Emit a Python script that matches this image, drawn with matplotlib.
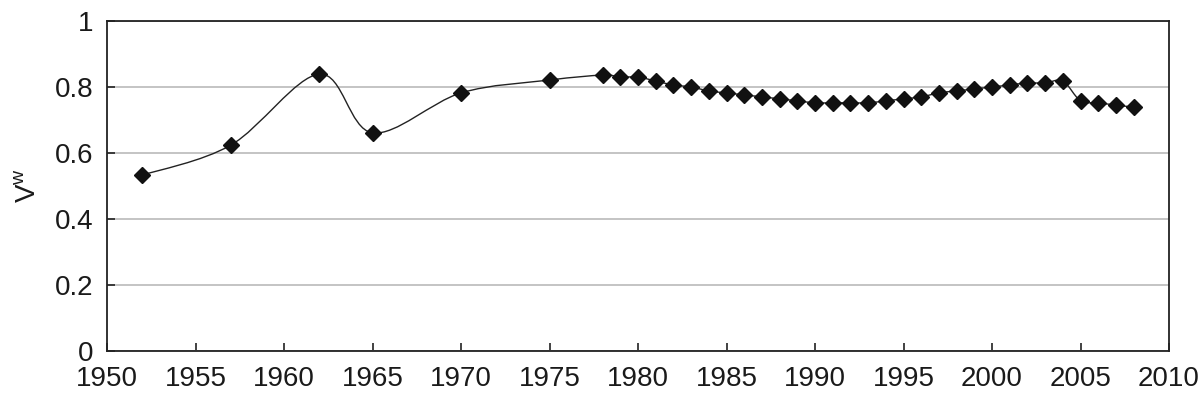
import matplotlib
matplotlib.use("Agg")
import matplotlib.pyplot as plt
from matplotlib.path import Path
from matplotlib.patches import PathPatch

plt.rcParams["font.family"] = ["Liberation Sans", "DejaVu Sans"]

years = [1952, 1957, 1962, 1965, 1970, 1975, 1978, 1979, 1980, 1981, 1982,
         1983, 1984, 1985, 1986, 1987, 1988, 1989, 1990, 1991, 1992, 1993,
         1994, 1995, 1996, 1997, 1998, 1999, 2000, 2001, 2002, 2003, 2004,
         2005, 2006, 2007, 2008]
vw = [0.533, 0.624, 0.839, 0.661, 0.782, 0.821, 0.836, 0.830, 0.830, 0.818,
      0.806, 0.800, 0.788, 0.782, 0.776, 0.770, 0.764, 0.758, 0.752, 0.752,
      0.752, 0.752, 0.758, 0.764, 0.770, 0.782, 0.788, 0.794, 0.800, 0.806,
      0.812, 0.812, 0.818, 0.758, 0.752, 0.745, 0.739]


def smooth_path(x, y):
    # Excel-style smoothed line: cubic Bezier segments between the points
    verts = [(x[0], y[0])]
    codes = [Path.MOVETO]
    n = len(x)
    for i in range(n - 1):
        x0, y0 = (x[i - 1], y[i - 1]) if i > 0 else (x[i], y[i])
        x3, y3 = (x[i + 2], y[i + 2]) if i + 2 < n else (x[i + 1], y[i + 1])
        c1 = (x[i] + (x[i + 1] - x0) / 6, y[i] + (y[i + 1] - y0) / 6)
        c2 = (x[i + 1] - (x3 - x[i]) / 6, y[i + 1] - (y3 - y[i]) / 6)
        verts += [c1, c2, (x[i + 1], y[i + 1])]
        codes += [Path.CURVE4] * 3
    return Path(verts, codes)


fig = plt.figure(figsize=(12, 4.03), dpi=100)
ax = fig.add_axes([0.0892, 0.129, 0.885, 0.819])

ax.add_patch(PathPatch(smooth_path(years, vw), facecolor="none",
                       edgecolor="#222222", lw=1.0, zorder=3))
ax.plot(years, vw, linestyle="none", marker="D", markersize=8.5,
        color="#111111", zorder=4)

ax.set_xlim(1950, 2010)
ax.set_ylim(0, 1)
ax.set_xticks(range(1950, 2011, 5))
ax.set_yticks([0, 0.2, 0.4, 0.6, 0.8, 1])
ax.set_yticklabels(["0", "0.2", "0.4", "0.6", "0.8", "1"])
ax.yaxis.grid(True, color="#c4c4c4", lw=1.4)
ax.set_axisbelow(True)

for s in ax.spines.values():
    s.set_color("#222222")
    s.set_linewidth(1.3)

ax.tick_params(axis="both", direction="in", length=6, width=1.2,
               colors="#222222", labelsize=20, labelcolor="#1a1a1a")
ax.tick_params(axis="x", pad=11)
ax.tick_params(axis="y", pad=10)
ax.set_ylabel(r"$\mathregular{V^w}$", fontsize=20, color="#1a1a1a", labelpad=10)

fig.savefig("out.png", dpi=100)
